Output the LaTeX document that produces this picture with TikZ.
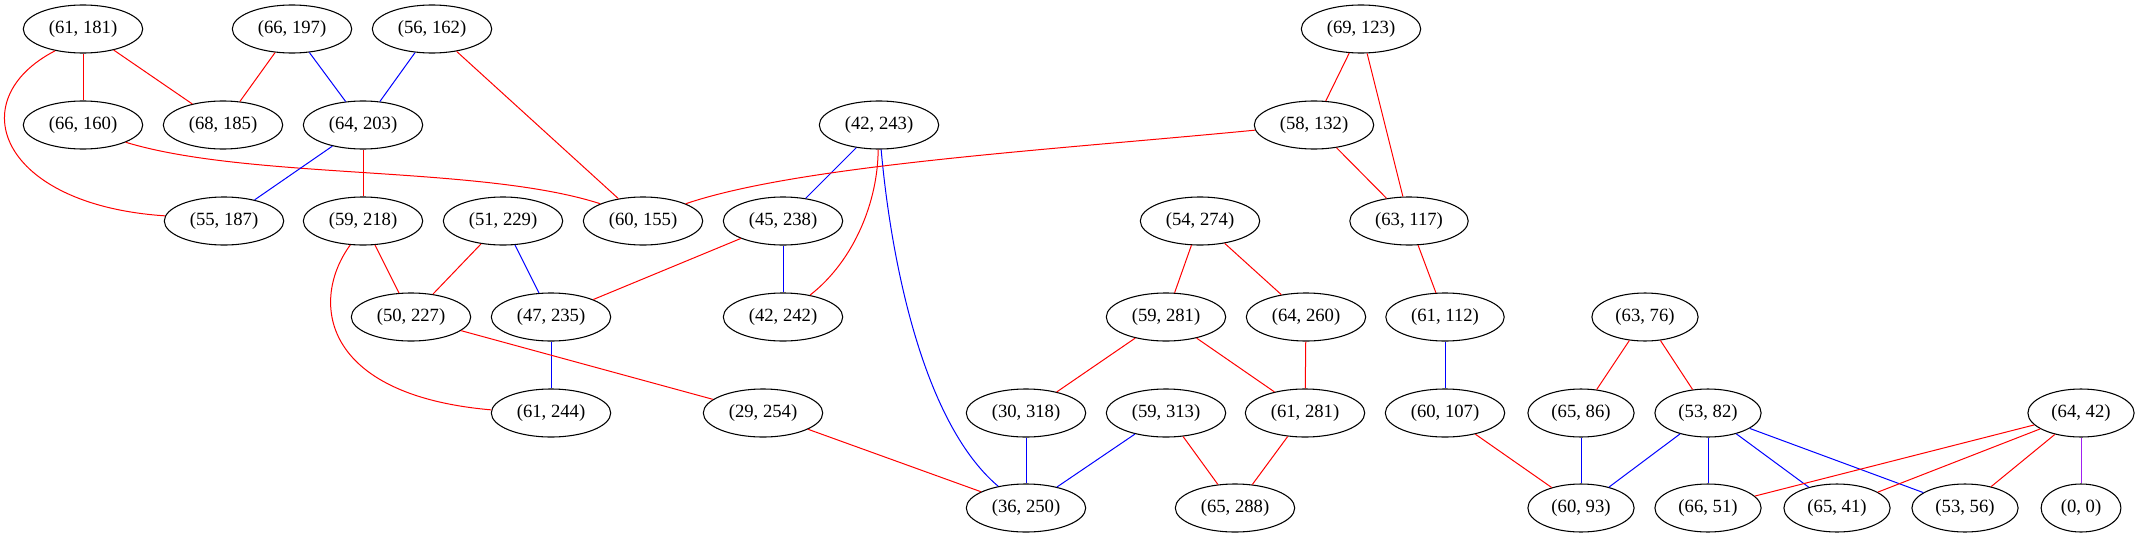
\documentclass[tikz,border=0pt]{standalone}
\usepackage{fontspec}
\setmainfont{Liberation Serif}
\usepackage{tikz}
\usetikzlibrary{shapes.geometric}
\definecolor{edgepurple}{RGB}{160,32,240}

\begin{document}
\begin{tikzpicture}[x=0.75pt,y=0.75pt,
  vertex/.style={ellipse,draw,line width=0.8pt,inner xsep=6pt,inner ysep=2pt,
    minimum height=36pt,font=\fontsize{14pt}{16pt}\selectfont},
  redge/.style={red,line width=0.75pt},
  bedge/.style={blue,line width=0.75pt},
  pedge/.style={edgepurple,line width=0.75pt}]
  \useasboundingbox (0,0) rectangle (2140,-539);

  % Row 1
  \node[vertex] (n61_181) at (83,-29)   {(61, 181)};
  \node[vertex] (n66_197) at (292,-29)  {(66, 197)};
  \node[vertex] (n56_162) at (432,-29)  {(56, 162)};
  \node[vertex] (n69_123) at (1361,-29) {(69, 123)};

  % Row 2
  \node[vertex] (n66_160) at (83,-125)   {(66, 160)};
  \node[vertex] (n68_185) at (223,-125)  {(68, 185)};
  \node[vertex] (n64_203) at (363,-125)  {(64, 203)};
  \node[vertex] (n42_243) at (879,-125)  {(42, 243)};
  \node[vertex] (n58_132) at (1314,-125) {(58, 132)};

  % Row 3
  \node[vertex] (n55_187) at (224,-221)  {(55, 187)};
  \node[vertex] (n59_218) at (363,-221)  {(59, 218)};
  \node[vertex] (n51_229) at (503,-221)  {(51, 229)};
  \node[vertex] (n60_155) at (643,-221)  {(60, 155)};
  \node[vertex] (n45_238) at (783,-221)  {(45, 238)};
  \node[vertex] (n54_274) at (1200,-221) {(54, 274)};
  \node[vertex] (n63_117) at (1409,-221) {(63, 117)};

  % Row 4
  \node[vertex] (n50_227) at (411,-317)  {(50, 227)};
  \node[vertex] (n47_235) at (551,-317)  {(47, 235)};
  \node[vertex] (n42_242) at (783,-317)  {(42, 242)};
  \node[vertex] (n59_281) at (1166,-317) {(59, 281)};
  \node[vertex] (n64_260) at (1306,-317) {(64, 260)};
  \node[vertex] (n61_112) at (1445,-317) {(61, 112)};
  \node[vertex] (n63_76)  at (1645,-317) {(63, 76)};

  % Row 5
  \node[vertex] (n61_244) at (551,-413)  {(61, 244)};
  \node[vertex] (n29_254) at (763,-413)  {(29, 254)};
  \node[vertex] (n30_318) at (1026,-413) {(30, 318)};
  \node[vertex] (n59_313) at (1166,-413) {(59, 313)};
  \node[vertex] (n61_281) at (1305,-413) {(61, 281)};
  \node[vertex] (n60_107) at (1445,-413) {(60, 107)};
  \node[vertex] (n65_86)  at (1581,-413) {(65, 86)};
  \node[vertex] (n53_82)  at (1708,-413) {(53, 82)};
  \node[vertex] (n64_42)  at (2081,-413) {(64, 42)};

  % Row 6
  \node[vertex] (n36_250) at (1026,-508) {(36, 250)};
  \node[vertex] (n65_288) at (1235,-508) {(65, 288)};
  \node[vertex] (n60_93)  at (1581,-508) {(60, 93)};
  \node[vertex] (n66_51)  at (1708,-508) {(66, 51)};
  \node[vertex] (n65_41)  at (1837,-508) {(65, 41)};
  \node[vertex] (n53_56)  at (1965,-508) {(53, 56)};
  \node[vertex] (n0_0)    at (2081,-508) {(0, 0)};

  % Left block
  \draw[redge] (n61_181) -- (n66_160);
  \draw[redge] (n61_181) -- (n68_185);
  \draw[redge] (n61_181.218) .. controls (-40,-100) and (0,-205) .. (n55_187.175);
  \draw[redge] (n66_197) -- (n68_185);
  \draw[bedge] (n66_197) -- (n64_203);
  \draw[bedge] (n56_162) -- (n64_203);
  \draw[redge] (n56_162) -- (n60_155);
  \draw[redge] (n66_160.338) .. controls (250,-180) and (480,-165) .. (n60_155.158);
  \draw[bedge] (n64_203) -- (n55_187);
  \draw[redge] (n64_203) -- (n59_218);
  \draw[redge] (n59_218) -- (n50_227);
  \draw[redge] (n59_218.242) .. controls (310,-300) and (320,-395) .. (n61_244.177);
  \draw[redge] (n51_229) -- (n50_227);
  \draw[bedge] (n51_229) -- (n47_235);
  \draw[bedge] (n47_235) -- (n61_244);
  \draw[redge] (n50_227) -- (n29_254);

  % Middle block
  \draw[bedge] (n42_243) -- (n45_238);
  \draw[redge] (n42_243.268) .. controls (878,-200) and (855,-260) .. (n42_242.39);
  \draw[bedge] (n42_243.275) .. controls (890,-250) and (920,-420) .. (n36_250.142);
  \draw[redge] (n45_238) -- (n47_235);
  \draw[bedge] (n45_238) -- (n42_242);
  \draw[redge] (n29_254) -- (n36_250);
  \draw[bedge] (n30_318) -- (n36_250);
  \draw[bedge] (n59_313) -- (n36_250);
  \draw[redge] (n59_313) -- (n65_288);
  \draw[redge] (n54_274) -- (n59_281);
  \draw[redge] (n54_274) -- (n64_260);
  \draw[redge] (n59_281) -- (n30_318);
  \draw[redge] (n59_281) -- (n61_281);
  \draw[redge] (n64_260) -- (n61_281);
  \draw[redge] (n61_281) -- (n65_288);

  % Right block
  \draw[redge] (n58_132.185) .. controls (1050,-150) and (800,-165) .. (n60_155.22);
  \draw[redge] (n69_123) -- (n58_132);
  \draw[redge] (n69_123) -- (n63_117);
  \draw[redge] (n58_132) -- (n63_117);
  \draw[redge] (n63_117) -- (n61_112);
  \draw[bedge] (n61_112) -- (n60_107);
  \draw[redge] (n60_107) -- (n60_93);
  \draw[redge] (n63_76) -- (n65_86);
  \draw[redge] (n63_76) -- (n53_82);
  \draw[bedge] (n65_86) -- (n60_93);
  \draw[bedge] (n53_82) -- (n60_93);
  \draw[bedge] (n53_82) -- (n66_51);
  \draw[bedge] (n53_82) -- (n65_41);
  \draw[bedge] (n53_82) -- (n53_56);
  \draw[redge] (n64_42) -- (n66_51);
  \draw[redge] (n64_42) -- (n65_41);
  \draw[redge] (n64_42) -- (n53_56);
  \draw[pedge] (n64_42) -- (n0_0);
\end{tikzpicture}
\end{document}
